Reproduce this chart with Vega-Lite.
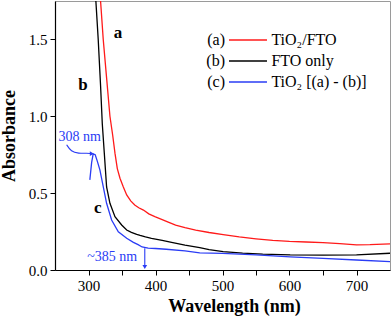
{
  "$schema": "https://vega.github.io/schema/vega-lite/v6.json",
  "width": 335,
  "height": 269,
  "autosize": {"type": "none"},
  "padding": {"left": 55, "top": 1, "right": 2, "bottom": 48},
  "config": {
    "view": {"stroke": "#9a9a9a", "strokeWidth": 1},
    "axis": {
      "grid": false,
      "domainColor": "#000000",
      "domainWidth": 1.2,
      "tickColor": "#000000",
      "tickSize": 5,
      "tickWidth": 1,
      "labelColor": "#000000",
      "labelFont": "Liberation Serif",
      "labelFontSize": 15,
      "labelPadding": 3,
      "titleFont": "Liberation Serif",
      "titleFontSize": 18,
      "titleFontWeight": "bold",
      "titleColor": "#000000"
    }
  },
  "datasets": {
    "spectra": [
      {"series": "TiO₂/FTO", "wl": 316, "abs": 1.9},
      {"series": "TiO₂/FTO", "wl": 318, "abs": 1.75},
      {"series": "TiO₂/FTO", "wl": 322, "abs": 1.5},
      {"series": "TiO₂/FTO", "wl": 327, "abs": 1.25},
      {"series": "TiO₂/FTO", "wl": 332, "abs": 1.0},
      {"series": "TiO₂/FTO", "wl": 336, "abs": 0.88},
      {"series": "TiO₂/FTO", "wl": 339.5, "abs": 0.76},
      {"series": "TiO₂/FTO", "wl": 343, "abs": 0.66},
      {"series": "TiO₂/FTO", "wl": 347, "abs": 0.597},
      {"series": "TiO₂/FTO", "wl": 352, "abs": 0.54},
      {"series": "TiO₂/FTO", "wl": 357, "abs": 0.488},
      {"series": "TiO₂/FTO", "wl": 363, "abs": 0.45},
      {"series": "TiO₂/FTO", "wl": 369, "abs": 0.423},
      {"series": "TiO₂/FTO", "wl": 375, "abs": 0.405},
      {"series": "TiO₂/FTO", "wl": 382, "abs": 0.39},
      {"series": "TiO₂/FTO", "wl": 390, "abs": 0.365},
      {"series": "TiO₂/FTO", "wl": 399, "abs": 0.347},
      {"series": "TiO₂/FTO", "wl": 410, "abs": 0.328},
      {"series": "TiO₂/FTO", "wl": 419, "abs": 0.312},
      {"series": "TiO₂/FTO", "wl": 430, "abs": 0.292},
      {"series": "TiO₂/FTO", "wl": 444, "abs": 0.275},
      {"series": "TiO₂/FTO", "wl": 460, "abs": 0.26},
      {"series": "TiO₂/FTO", "wl": 480, "abs": 0.244},
      {"series": "TiO₂/FTO", "wl": 501, "abs": 0.23},
      {"series": "TiO₂/FTO", "wl": 525, "abs": 0.215},
      {"series": "TiO₂/FTO", "wl": 550, "abs": 0.203},
      {"series": "TiO₂/FTO", "wl": 575, "abs": 0.193},
      {"series": "TiO₂/FTO", "wl": 600, "abs": 0.186},
      {"series": "TiO₂/FTO", "wl": 625, "abs": 0.182},
      {"series": "TiO₂/FTO", "wl": 650, "abs": 0.178},
      {"series": "TiO₂/FTO", "wl": 675, "abs": 0.172},
      {"series": "TiO₂/FTO", "wl": 700, "abs": 0.164},
      {"series": "TiO₂/FTO", "wl": 720, "abs": 0.165},
      {"series": "TiO₂/FTO", "wl": 750, "abs": 0.17},
      {"series": "FTO only", "wl": 309, "abs": 1.9},
      {"series": "FTO only", "wl": 311, "abs": 1.75},
      {"series": "FTO only", "wl": 314.5, "abs": 1.5},
      {"series": "FTO only", "wl": 318, "abs": 1.2},
      {"series": "FTO only", "wl": 320.6, "abs": 0.95},
      {"series": "FTO only", "wl": 323.6, "abs": 0.76},
      {"series": "FTO only", "wl": 327, "abs": 0.54},
      {"series": "FTO only", "wl": 332, "abs": 0.434},
      {"series": "FTO only", "wl": 339.5, "abs": 0.347},
      {"series": "FTO only", "wl": 349.5, "abs": 0.293},
      {"series": "FTO only", "wl": 357, "abs": 0.26},
      {"series": "FTO only", "wl": 364, "abs": 0.245},
      {"series": "FTO only", "wl": 372, "abs": 0.232},
      {"series": "FTO only", "wl": 377, "abs": 0.225},
      {"series": "FTO only", "wl": 385, "abs": 0.215},
      {"series": "FTO only", "wl": 394, "abs": 0.206},
      {"series": "FTO only", "wl": 410, "abs": 0.193},
      {"series": "FTO only", "wl": 424, "abs": 0.18},
      {"series": "FTO only", "wl": 444, "abs": 0.162},
      {"series": "FTO only", "wl": 466, "abs": 0.145},
      {"series": "FTO only", "wl": 480, "abs": 0.132},
      {"series": "FTO only", "wl": 501, "abs": 0.12},
      {"series": "FTO only", "wl": 530, "abs": 0.11},
      {"series": "FTO only", "wl": 560, "abs": 0.103},
      {"series": "FTO only", "wl": 601, "abs": 0.098},
      {"series": "FTO only", "wl": 650, "abs": 0.097},
      {"series": "FTO only", "wl": 700, "abs": 0.098},
      {"series": "FTO only", "wl": 750, "abs": 0.109},
      {"series": "TiO₂ [(a) - (b)]", "wl": 302, "abs": 0.586},
      {"series": "TiO₂ [(a) - (b)]", "wl": 304.7, "abs": 0.7},
      {"series": "TiO₂ [(a) - (b)]", "wl": 307, "abs": 0.755},
      {"series": "TiO₂ [(a) - (b)]", "wl": 310, "abs": 0.75},
      {"series": "TiO₂ [(a) - (b)]", "wl": 313, "abs": 0.71},
      {"series": "TiO₂ [(a) - (b)]", "wl": 317, "abs": 0.651},
      {"series": "TiO₂ [(a) - (b)]", "wl": 322, "abs": 0.542},
      {"series": "TiO₂ [(a) - (b)]", "wl": 327, "abs": 0.434},
      {"series": "TiO₂ [(a) - (b)]", "wl": 334.5, "abs": 0.325},
      {"series": "TiO₂ [(a) - (b)]", "wl": 344.5, "abs": 0.249},
      {"series": "TiO₂ [(a) - (b)]", "wl": 357, "abs": 0.206},
      {"series": "TiO₂ [(a) - (b)]", "wl": 367, "abs": 0.18},
      {"series": "TiO₂ [(a) - (b)]", "wl": 374, "abs": 0.165},
      {"series": "TiO₂ [(a) - (b)]", "wl": 380, "abs": 0.15},
      {"series": "TiO₂ [(a) - (b)]", "wl": 389, "abs": 0.142},
      {"series": "TiO₂ [(a) - (b)]", "wl": 400, "abs": 0.14},
      {"series": "TiO₂ [(a) - (b)]", "wl": 416, "abs": 0.135},
      {"series": "TiO₂ [(a) - (b)]", "wl": 444, "abs": 0.125},
      {"series": "TiO₂ [(a) - (b)]", "wl": 466, "abs": 0.112},
      {"series": "TiO₂ [(a) - (b)]", "wl": 500, "abs": 0.108},
      {"series": "TiO₂ [(a) - (b)]", "wl": 550, "abs": 0.098},
      {"series": "TiO₂ [(a) - (b)]", "wl": 601, "abs": 0.085},
      {"series": "TiO₂ [(a) - (b)]", "wl": 650, "abs": 0.076},
      {"series": "TiO₂ [(a) - (b)]", "wl": 700, "abs": 0.065},
      {"series": "TiO₂ [(a) - (b)]", "wl": 750, "abs": 0.055}
    ],
    "curveLabels": [
      {"wl": 344, "abs": 1.542, "label": "a"},
      {"wl": 291.8, "abs": 1.204, "label": "b"},
      {"wl": 314, "abs": 0.403, "label": "c"}
    ],
    "peakLabels": [
      {"wl": 287, "abs": 0.862, "label": "308 nm"},
      {"wl": 335.5, "abs": 0.085, "label": "~385 nm"}
    ],
    "legendRows": [
      {"series": "TiO₂/FTO", "key": "(a)", "abs": 1.497, "x1": 509.7, "x2": 566.4, "xt": 573},
      {"series": "FTO only", "key": "(b)", "abs": 1.36, "x1": 509.7, "x2": 566.4, "xt": 573},
      {"series": "TiO₂ [(a) - (b)]", "key": "(c)", "abs": 1.223, "x1": 509.7, "x2": 566.4, "xt": 573}
    ],
    "arrow308": [
      {"wl": 267.4, "abs": 0.815},
      {"wl": 274, "abs": 0.77},
      {"wl": 285, "abs": 0.758},
      {"wl": 298, "abs": 0.76},
      {"wl": 304, "abs": 0.757}
    ],
    "heads": [
      {"wl": 305, "abs": 0.757, "shape": "triangle-right"},
      {"wl": 384, "abs": 0.02, "shape": "triangle-down"}
    ],
    "arrow385": [
      {"wl": 384, "abs": 0.141, "abs2": 0.02}
    ]
  },
  "layer": [
    {
      "data": {"name": "spectra"},
      "mark": {"type": "line", "strokeWidth": 1.3, "clip": true},
      "encoding": {
        "x": {
          "field": "wl",
          "type": "quantitative",
          "scale": {"domain": [250, 750], "nice": false, "zero": false},
          "axis": {
            "title": "Wavelength (nm)",
            "values": [300, 350, 400, 450, 500, 550, 600, 650, 700],
            "format": "d",
            "labelExpr": "datum.value % 100 == 0 ? format(datum.value, 'd') : ''",
            "labelOverlap": false,
            "labelFlush": false,
            "titlePadding": 4,
            "titleX": 179
          }
        },
        "y": {
          "field": "abs",
          "type": "quantitative",
          "scale": {"domain": [0, 1.75], "nice": false},
          "axis": {
            "title": "Absorbance",
            "values": [0, 0.25, 0.5, 0.75, 1.0, 1.25, 1.5, 1.75],
            "format": ".1f",
            "labelExpr": "datum.value % 0.5 === 0 ? datum.label : ''",
            "labelOverlap": false,
            "titlePadding": 10
          }
        },
        "color": {
          "field": "series",
          "type": "nominal",
          "scale": {
            "domain": ["TiO₂/FTO", "FTO only", "TiO₂ [(a) - (b)]"],
            "range": ["#ff1a1a", "#000000", "#2a3cf5"]
          },
          "legend": null
        }
      }
    },
    {
      "data": {"name": "legendRows"},
      "mark": {"type": "rule", "strokeWidth": 1.5},
      "encoding": {
        "x": {"field": "x1", "type": "quantitative"},
        "x2": {"field": "x2"},
        "y": {"field": "abs", "type": "quantitative"},
        "color": {"field": "series", "type": "nominal", "legend": null}
      }
    },
    {
      "data": {"name": "legendRows"},
      "mark": {"type": "text", "fontSize": 16, "color": "#000000", "align": "right", "font": "Liberation Serif"},
      "encoding": {
        "x": {"field": "x1", "type": "quantitative"},
        "y": {"field": "abs", "type": "quantitative"},
        "text": {"field": "key"},
        "xOffset": {"value": -4}
      }
    },
    {
      "data": {"name": "legendRows"},
      "mark": {"type": "text", "fontSize": 16, "color": "#000000", "align": "left", "font": "Liberation Serif"},
      "encoding": {
        "x": {"field": "xt", "type": "quantitative"},
        "y": {"field": "abs", "type": "quantitative"},
        "text": {"field": "series"}
      }
    },
    {
      "data": {"name": "arrow308"},
      "mark": {"type": "line", "interpolate": "basis", "color": "#2a3cf5", "strokeWidth": 1.1},
      "encoding": {
        "x": {"field": "wl", "type": "quantitative"},
        "y": {"field": "abs", "type": "quantitative"}
      }
    },
    {
      "data": {"name": "arrow385"},
      "mark": {"type": "rule", "color": "#2a3cf5", "strokeWidth": 1.1},
      "encoding": {
        "x": {"field": "wl", "type": "quantitative"},
        "y": {"field": "abs", "type": "quantitative"},
        "y2": {"field": "abs2"}
      }
    },
    {
      "data": {"name": "heads"},
      "mark": {"type": "point", "filled": true, "color": "#2a3cf5", "size": 22, "opacity": 1},
      "encoding": {
        "x": {"field": "wl", "type": "quantitative"},
        "y": {"field": "abs", "type": "quantitative"},
        "shape": {"field": "shape", "type": "nominal", "scale": null}
      }
    },
    {
      "data": {"name": "curveLabels"},
      "mark": {"type": "text", "fontSize": 17, "fontWeight": "bold", "color": "#000000", "font": "Liberation Serif"},
      "encoding": {
        "x": {"field": "wl", "type": "quantitative"},
        "y": {"field": "abs", "type": "quantitative"},
        "text": {"field": "label"}
      }
    },
    {
      "data": {"name": "peakLabels"},
      "mark": {"type": "text", "fontSize": 14, "color": "#2a3cf5", "font": "Liberation Serif"},
      "encoding": {
        "x": {"field": "wl", "type": "quantitative"},
        "y": {"field": "abs", "type": "quantitative"},
        "text": {"field": "label"}
      }
    }
  ]
}
